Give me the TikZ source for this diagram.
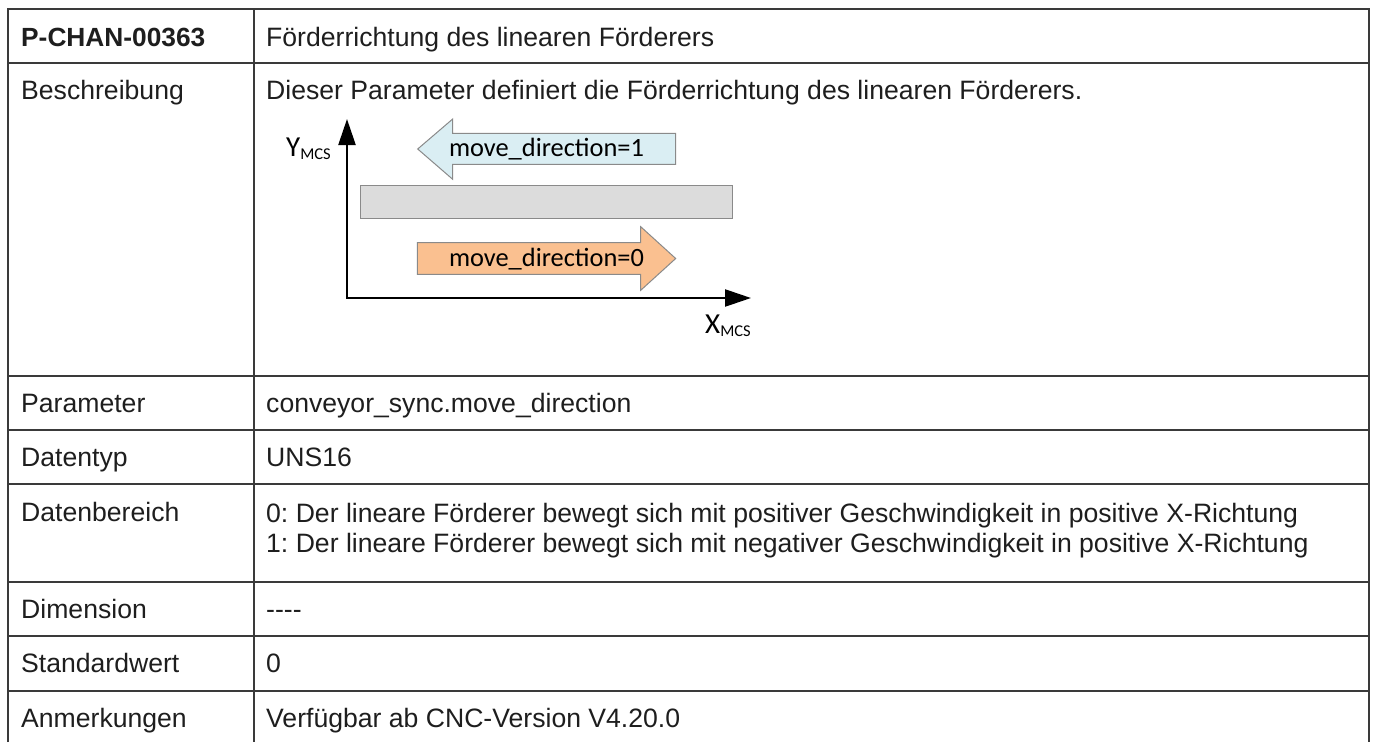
\documentclass[tikz,border=0pt]{standalone}
\usepackage{fontspec}
\setmainfont{Liberation Sans}
\newfontfamily\diagfont{Carlito}
\usetikzlibrary{arrows.meta}
\definecolor{rulecol}{HTML}{3A3A3A}
\definecolor{ink}{HTML}{1E1E1E}
\definecolor{bluefill}{HTML}{DAEEF3}
\definecolor{orangefill}{HTML}{FAC090}
\definecolor{shapeedge}{HTML}{8A8A8A}
\definecolor{barfill}{HTML}{DCDCDC}
\frenchspacing

\begin{document}
\begin{tikzpicture}[x=1pt,y=-1pt,
  gridline/.style={draw=rulecol, line width=1.6pt},
  cell/.style={anchor=base west, inner sep=0pt, text=ink,
               font=\fontsize{26.6}{30}\selectfont},
  headcell/.style={cell, font=\fontsize{26.3}{30}\selectfont\bfseries},
  axisline/.style={draw=black, line width=2.3pt, line join=miter,
                   {Triangle[length=26pt,width=17pt]}-{Triangle[length=26pt,width=17pt]}},
  axislabel/.style={anchor=base west, inner sep=0pt, text=black,
                    font=\diagfont\fontsize{29}{30}\selectfont},
  arrowlabel/.style={anchor=base, inner sep=0pt, text=black,
                     font=\diagfont\fontsize{26.4}{30}\selectfont},
  flowarrow/.style={draw=shapeedge, line width=1pt, line join=miter}
]
\useasboundingbox (0,0) rectangle (1375,742);

% table rules (open at the bottom)
\draw[gridline] (8,742) -- (8,9) -- (1369,9) -- (1369,742);
\draw[gridline] (254,9) -- (254,742);
\foreach \ry in {63,376,430,484,582,636,691}
  \draw[gridline] (8,\ry) -- (1369,\ry);

% left column
\node[headcell] (k1) at (21,46) {P-CHAN-00363};
\node[cell] (k2) at (21,99.5) {Beschreibung};
\node[cell] (k3) at (21,412.5) {Parameter};
\node[cell] (k4) at (21,466.5) {Datentyp};
\node[cell] (k5) at (21,521) {Datenbereich};
\node[cell] (k6) at (21,618.5) {Dimension};
\node[cell] (k7) at (21,672.5) {Standardwert};
\node[cell] (k8) at (21,727.5) {Anmerkungen};

% right column
\node[cell] (v1) at (266,46) {Förderrichtung des linearen Förderers};
\node[cell] (v2) at (266,99.5) {Dieser Parameter definiert die Förderrichtung des linearen Förderers.};
\node[cell] (v3) at (266,412.5) {conveyor\_sync.move\_direction};
\node[cell] (v4) at (266,466.5) {UNS16};
\node[cell] (v5a) at (266,522) {0: Der lineare Förderer bewegt sich mit positiver Geschwindigkeit in positive X-Richtung};
\node[cell] (v5b) at (266,552.5) {1: Der lineare Förderer bewegt sich mit negativer Geschwindigkeit in positive X-Richtung};
\node[cell] (v6) at (266,618.5) {-{}-{}-{}-};
\node[cell] (v7) at (266,672.5) {0};
\node[cell] (v8) at (266,727.5) {Verfügbar ab CNC-Version V4.20.0};

% conveyor sketch: axes
\coordinate (origin) at (347,298);
\coordinate (ytip) at (347,119);
\coordinate (xtip) at (751,298);
\draw[axisline] (ytip) -- (origin) -- (xtip);
\node[axislabel] (ylab) at (286,156) {Y\raisebox{-3.5pt}{\fontsize{16.5}{17}\selectfont MCS}};
\node[axislabel] (xlab) at (705,333) {X\raisebox{-3.5pt}{\fontsize{16.5}{17}\selectfont MCS}};

% conveyor belt
\draw[draw=shapeedge, line width=1pt, fill=barfill] (360.3,185.3) rectangle (732.3,218.7);

% direction arrows
\draw[flowarrow, fill=bluefill]
  (675.7,133.3) -- (452.7,133.3) -- (452.7,119) -- (417.7,149)
  -- (452.7,179.3) -- (452.7,164.3) -- (675.7,164.3) -- cycle;
\node[arrowlabel] (dir1) at (546.5,156) {move\_direction=1};

\draw[flowarrow, fill=orangefill]
  (417.3,242.7) -- (640.7,242.7) -- (640.7,226.7) -- (675.7,258.5)
  -- (640.7,290.3) -- (640.7,274.3) -- (417.3,274.3) -- cycle;
\node[arrowlabel] (dir0) at (546.5,266) {move\_direction=0};
\end{tikzpicture}
\end{document}
